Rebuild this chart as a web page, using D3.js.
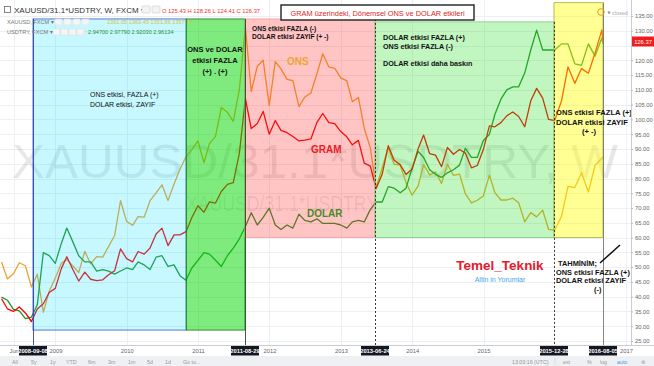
<!DOCTYPE html>
<html><head><meta charset="utf-8">
<script src="https://cdn.jsdelivr.net/npm/d3@7"></script>
<style>
html,body{margin:0;padding:0;background:#fff;}
svg{display:block;font-family:"Liberation Sans",Arial,sans-serif;}
</style></head><body>
<svg id="c" width="654" height="366"></svg>
<script>
// ---------- DATA (monthly, Mar 2008 .. Aug 2016) ----------
const startMonth = "2008-03";
const endMonth = "2016-08";
const lastBarDate = "2016-08-05";

// XAUUSD/31.1*USDTRY  (gram gold, TRY) - main series, right axis
const gramValues = [
  39.3, 35.9, 35.0, 36.5, 34.5, 31.6, 35.8, 37.6, 41.4, 42.8,
  49.5, 53.5, 49.2, 45.3, 48.3, 45.9, 45.4, 45.7, 47.4, 48.8, 56.2, 52.9,
  51.8, 55.3, 54.4, 56.5, 61.2, 63.2, 57.3, 60.9, 60.9, 62.0, 66.8, 70.8,
  68.6, 72.1, 71.7, 75.6, 78.0, 78.6, 88.5, 107.0, 96.9, 98.6, 102.7, 95.0,
  99.6, 96.3, 95.5, 94.2, 92.7, 93.0, 93.4, 99.0, 102.0, 98.9, 98.6, 95.9,
  94.1, 91.4, 92.9, 85.2, 84.2, 76.6, 81.5, 91.1, 86.2, 84.7, 81.4, 83.1,
  90.1, 94.7, 88.4, 87.9, 84.0, 90.5, 88.2, 89.8, 88.6, 83.6, 84.4, 89.8,
  97.8, 97.5, 98.9, 101.2, 102.5, 101.0, 97.5, 106.3, 110.5, 107.2, 100.0, 99.6,
  106.3, 117.8, 112.2, 117.2, 115.6, 122.4, 130.3, 126.37
];
// XAUUSD (ONS) - overlay
const onsValues = [
  933, 865, 886, 930, 918, 833, 884, 730, 815, 869,
  928, 943, 917, 891, 976, 926, 955, 953, 996, 1040, 1180, 1097,
  1081, 1116, 1114, 1180, 1212, 1244, 1181, 1247, 1307, 1357, 1386, 1421,
  1333, 1410, 1439, 1556, 1536, 1500, 1628, 1880, 1620, 1722, 1746, 1564,
  1740, 1711, 1669, 1664, 1559, 1598, 1614, 1692, 1772, 1719, 1713, 1675,
  1663, 1579, 1596, 1472, 1393, 1234, 1313, 1396, 1327, 1323, 1253, 1202,
  1240, 1326, 1284, 1296, 1250, 1327, 1282, 1287, 1208, 1171, 1182, 1199,
  1283, 1213, 1183, 1183, 1190, 1172, 1095, 1132, 1115, 1142, 1065, 1061,
  1117, 1238, 1233, 1293, 1215, 1322, 1351, 1357
];
// USDTRY (DOLAR) - overlay
const dolarValues = [
  1.31, 1.29, 1.23, 1.22, 1.17, 1.18, 1.26, 1.60, 1.58, 1.53,
  1.66, 1.76, 1.67, 1.58, 1.54, 1.54, 1.48, 1.49, 1.48, 1.46, 1.48, 1.50,
  1.49, 1.54, 1.52, 1.49, 1.57, 1.58, 1.51, 1.52, 1.45, 1.42, 1.50, 1.55,
  1.60, 1.59, 1.55, 1.51, 1.58, 1.63, 1.69, 1.77, 1.86, 1.78, 1.83, 1.89,
  1.78, 1.75, 1.78, 1.76, 1.85, 1.81, 1.80, 1.82, 1.79, 1.79, 1.79, 1.78,
  1.76, 1.80, 1.81, 1.80, 1.88, 1.93, 1.93, 2.03, 2.02, 1.99, 2.02, 2.15,
  2.26, 2.22, 2.14, 2.11, 2.09, 2.12, 2.14, 2.17, 2.28, 2.22, 2.22, 2.33,
  2.37, 2.50, 2.60, 2.66, 2.68, 2.68, 2.77, 2.92, 3.05, 2.92, 2.92, 2.92,
  2.96, 2.96, 2.83, 2.82, 2.96, 2.88, 3.00, 2.96
];

const yTickValues = [25,30,35,40,45,50,55,60,65,70,75,80,85,90,95,100,105,110,115,120,125,130,135];
const yHiddenLabel = 125; // covered by the last-price label
const xTickDates = ["2008-06-01","2009-01-01","2010-01-01","2011-01-01","2012-01-01","2013-01-01","2014-01-01","2015-01-01","2017-01-01"];
const xTickLabels = ["Jun","2009","2010","2011","2012","2013","2014","2015","2017"];
const markerDates = ["2008-09-08","2011-08-29","2013-06-24","2015-12-28","2016-08-05"];

// Highlighted periods (dates, gram-axis value bounds)
const periodStart = ["2008-09-08","2010-11-01","2011-08-29","2013-06-24","2015-12-28"];
const periodEnd   = ["2010-11-01","2011-08-29","2013-06-24","2015-12-28","2016-08-05"];
const periodTop   = [134, 134, 134, 133, 139.5];
const periodBottom= [28.7, 28.7, 60, 60, 60];

const lastClose = 126.37;
const legendMain = "O 125.43  H 128.26  L 124.41  C 126.37";
const legendOns = "1361.05  1363.45  1351.86  1357.17";
const legendDolar = "2.94700  2.97790  2.92030  2.96134";

// ---------- CHART ----------
const svg = d3.select("#c");
const parse = d3.timeParse("%Y-%m-%d");
const plotR = 631, plotB = 345;

const x = d3.scaleTime()
  .domain([...markerDates, "2017-01-01"].map(parse))
  .range([33, 245, 375, 554, 603, 626]);
const y = d3.scaleLinear().domain([25,135]).range([341,16]);
const yOns = d3.scaleLinear().domain([1050,1900]).range([233,22]);
const yDol = d3.scaleLinear().domain([1.78,3.07]).range([225,27]);

const months = d3.timeMonth.range(d3.timeParse("%Y-%m")(startMonth), d3.timeMonth.offset(d3.timeParse("%Y-%m")(endMonth),1));
const dates = months.map((m,i) => i === months.length-1 ? parse(lastBarDate) : d3.timeDay.offset(d3.timeMonth.offset(m,1),-1));

svg.append("rect").attr("width",654).attr("height",366).attr("fill","#fff");
svg.append("defs").append("clipPath").attr("id","plot")
  .append("rect").attr("x",0).attr("y",0).attr("width",plotR).attr("height",plotB);

const plot = svg.append("g").attr("clip-path","url(#plot)");

// grid
plot.append("g").selectAll("line").data(yTickValues).join("line")
  .attr("x1",0).attr("x2",plotR).attr("y1",d=>Math.round(y(d))+0.5).attr("y2",d=>Math.round(y(d))+0.5)
  .attr("stroke","#eceff3");
plot.append("g").selectAll("line").data(xTickDates).join("line")
  .attr("x1",d=>Math.round(x(parse(d)))+0.5).attr("x2",d=>Math.round(x(parse(d)))+0.5)
  .attr("y1",0).attr("y2",plotB).attr("stroke","#eceff3");

// watermarks
plot.append("text").attr("x",12).attr("y",178).attr("font-size",49)
  .attr("textLength",606).attr("lengthAdjust","spacingAndGlyphs")
  .attr("fill","#000").attr("fill-opacity",0.09).text("XAUUSD/31.1*USDTRY, W");
plot.append("text").attr("x",186).attr("y",211).attr("font-size",22)
  .attr("textLength",192).attr("lengthAdjust","spacingAndGlyphs")
  .attr("fill","#000").attr("fill-opacity",0.09).text("XAUUSD/31.1*USDTRY");

// lines
const lineOf = (vals, sc) => d3.line().x((d,i)=>x(dates[i])).y(d=>sc(d))(vals);
plot.append("path").attr("d",lineOf(onsValues,yOns)).attr("fill","none")
  .attr("stroke","#f0a12a").attr("stroke-width",1.3).attr("stroke-linejoin","round");
plot.append("path").attr("d",lineOf(dolarValues,yDol)).attr("fill","none")
  .attr("stroke","#259325").attr("stroke-width",1.3).attr("stroke-linejoin","round");
plot.append("path").attr("d",lineOf(gramValues,y)).attr("fill","none")
  .attr("stroke","#ff0000").attr("stroke-width",1.3).attr("stroke-linejoin","round");

// period rectangles (semi-transparent, over the lines)
const pFill = ["#00e1ff","#00d800","#ff2a2a","#22dd22","#ffff00"];
const pOp = [0.22, 0.5, 0.27, 0.28, 0.42];
const pStroke = ["#3355cc","#117711","#ff9999","#77cc77","#aaaa33"];
plot.append("g").selectAll("rect").data(periodStart).join("rect")
  .attr("x",(d,i)=>x(parse(d)))
  .attr("width",(d,i)=>x(parse(periodEnd[i]))-x(parse(d)))
  .attr("y",(d,i)=>y(periodTop[i]))
  .attr("height",(d,i)=>y(periodBottom[i])-y(periodTop[i]))
  .attr("fill",(d,i)=>pFill[i]).attr("fill-opacity",(d,i)=>pOp[i])
  .attr("stroke",(d,i)=>pStroke[i]).attr("stroke-width",0.8);

// vertical marker lines
const mStyle = [{c:"#3344aa",d:null},{c:"#225522",d:null},{c:"#222",d:"2,2"},{c:"#222",d:"2,2"},{c:"#777",d:null}];
plot.append("g").selectAll("line").data(markerDates).join("line")
  .attr("x1",d=>Math.round(x(parse(d)))+0.5).attr("x2",d=>Math.round(x(parse(d)))+0.5)
  .attr("y1",(d,i)=> y(periodTop[Math.min(i,4)]))
  .attr("y2",plotB)
  .attr("stroke",(d,i)=>mStyle[i].c).attr("stroke-dasharray",(d,i)=>mStyle[i].d).attr("stroke-width",0.9);

// annotations
function block(x0, y0, lines, opts) {
  const t = svg.append("text").attr("font-size",opts.size).attr("font-weight",opts.bold?"bold":"normal")
    .attr("fill",opts.color||"#111").attr("text-anchor",opts.anchor||"start");
  lines.forEach((s,i)=> t.append("tspan").attr("x", Array.isArray(x0)?x0[i]:x0).attr("y", y0 + i*opts.lh).text(s));
}
block(90, 97, ["ONS etkisi, FAZLA (+)","DOLAR etkisi, ZAYIF"], {size:7, lh:9.5});
block(215, 52, ["ONS ve DOLAR","etkisi FAZLA","(+) . (+)"], {size:7.5, lh:11, bold:true, anchor:"middle"});
block(252, 31, ["ONS etkisi FAZLA (-)","DOLAR etkisi ZAYIF (+ -)"], {size:6.6, lh:7.5, bold:true});
block(383, 40, ["DOLAR etkisi FAZLA (+)","ONS etkisi FAZLA (-)"], {size:7.2, lh:8.5, bold:true});
block(383, 66, ["DOLAR etkisi daha baskın"], {size:7.2, lh:8.5, bold:true});
block([556,556,582], 115, ["ONS etkisi FAZLA (+)","DOLAR etkisi ZAYIF","(+ -)"], {size:7.6, lh:9.5, bold:true});
block([558,556,556,594], 266, ["TAHMİNİM;","ONS etkisi FAZLA (+)","DOLAR etkisi ZAYIF","(-)"], {size:7.4, lh:8.7, bold:true});
svg.append("text").attr("x",287).attr("y",65).attr("font-size",10).attr("font-weight","bold").attr("fill","#eda535").text("ONS");
svg.append("text").attr("x",311).attr("y",153).attr("font-size",10).attr("font-weight","bold").attr("fill","#ee1b24").text("GRAM");
svg.append("text").attr("x",307).attr("y",217).attr("font-size",10).attr("font-weight","bold").attr("fill","#4a8a26").text("DOLAR");
svg.append("text").attr("x",500).attr("y",270).attr("font-size",13.5).attr("font-weight","bold").attr("fill","#e8192c").attr("text-anchor","middle").text("Temel_Teknik");
svg.append("text").attr("x",500).attr("y",282).attr("font-size",7).attr("fill","#3fa9e6").attr("text-anchor","middle").text("Altin in Yorumlar");
svg.append("line").attr("x1",620).attr("y1",245).attr("x2",600).attr("y2",263).attr("stroke","#111").attr("stroke-width",1.5);

// title box
svg.append("rect").attr("x",281).attr("y",5).attr("width",193).attr("height",15).attr("fill","#fff").attr("stroke","#222").attr("stroke-width",1.4);
svg.append("text").attr("x",377.5).attr("y",15.5).attr("font-size",7.4).attr("fill","#e01e1e").attr("text-anchor","middle").text("GRAM üzerindeki, Dönemsel  ONS ve DOLAR etkileri");

// legend
svg.append("rect").attr("x",4.5).attr("y",6.5).attr("width",6).attr("height",6).attr("fill","none").attr("stroke","#666").attr("stroke-width",0.8);
svg.append("text").attr("x",14).attr("y",13).attr("font-size",8).attr("fill","#333").text("XAUUSD/31.1*USDTRY, W, FXCM ▾");
[[142,6],[152,6]].forEach(p=>svg.append("rect").attr("x",p[0]).attr("y",p[1]).attr("width",8).attr("height",7).attr("rx",1).attr("fill","#f3f3f3").attr("stroke","#ccc").attr("stroke-width",0.6));
svg.append("text").attr("x",162).attr("y",13).attr("font-size",5.8).attr("fill","#e33").text(legendMain);
svg.append("text").attr("x",7).attr("y",24).attr("font-size",5.6).attr("fill","#777").text("XAUUSD, FXCM ▾");
[55,64,73,82].forEach(p=>svg.append("rect").attr("x",p).attr("y",19).attr("width",7).attr("height",6).attr("fill","#f5f5f5").attr("stroke","#ddd").attr("stroke-width",0.5));
svg.append("text").attr("x",107).attr("y",24).attr("font-size",5.6).attr("fill","#d6c23a").text(legendOns);
svg.append("text").attr("x",7).attr("y",34).attr("font-size",5.6).attr("fill","#777").text("USDTRY, FXCM ▾");
[53,61,69,77].forEach(p=>svg.append("rect").attr("x",p).attr("y",29).attr("width",7).attr("height",6).attr("fill","#f5f5f5").attr("stroke","#ddd").attr("stroke-width",0.5));
svg.append("text").attr("x",88).attr("y",34).attr("font-size",5.6).attr("fill","#2f8f2f").text(legendDolar);

// closed indicator
svg.append("circle").attr("cx",601).attr("cy",12).attr("r",3.3).attr("fill","none").attr("stroke","#f39a1e").attr("stroke-width",1);
svg.append("circle").attr("cx",609).attr("cy",12.5).attr("r",1.3).attr("fill","#999");
svg.append("text").attr("x",612).attr("y",14.5).attr("font-size",5.5).attr("fill","#aaa").text("closed");

// right axis
svg.append("line").attr("x1",plotR+0.5).attr("x2",plotR+0.5).attr("y1",0).attr("y2",plotB).attr("stroke","#c9ccd2");
const yAxis = d3.axisRight(y).tickValues(yTickValues.filter(v=>v!==yHiddenLabel)).tickFormat(d3.format(".2f")).tickSize(2).tickPadding(2);
const ya = svg.append("g").attr("transform",`translate(${plotR},0)`).call(yAxis);
ya.select(".domain").remove();
ya.selectAll("line").attr("stroke","#bbb");
ya.selectAll("text").attr("font-size",5.8).attr("fill","#666").attr("font-family","Liberation Sans, Arial");
// last price label
svg.append("rect").attr("x",632).attr("y",y(lastClose)-5).attr("width",22).attr("height",10).attr("fill","#ee1c1c");
svg.append("text").attr("x",643).attr("y",y(lastClose)+2.2).attr("font-size",5.8).attr("fill","#fff").attr("text-anchor","middle").text(d3.format(".2f")(lastClose));

// bottom axis
svg.append("line").attr("x1",0).attr("x2",654).attr("y1",plotB+0.5).attr("y2",plotB+0.5).attr("stroke","#c9ccd2");
const xAxis = d3.axisBottom(x).tickValues(xTickDates.map(parse)).tickFormat((d,i)=>xTickLabels[i]).tickSize(0).tickPadding(4);
const xa = svg.append("g").attr("transform",`translate(0,${plotB})`).call(xAxis);
xa.select(".domain").remove();
xa.selectAll("text").attr("font-size",5.8).attr("fill","#666").attr("font-family","Liberation Sans, Arial");

// marker labels
const mg = svg.append("g").selectAll("g").data(markerDates).join("g")
  .attr("transform",d=>`translate(${x(parse(d))},${plotB+1})`);
mg.append("rect").attr("x",-14).attr("y",0).attr("width",28).attr("height",9.5).attr("fill","#131722");
mg.append("text").attr("y",7).attr("text-anchor","middle").attr("font-size",5.8).attr("font-weight","bold").attr("fill","#fff").text(d=>d);

// bottom toolbar
svg.append("rect").attr("x",0).attr("y",356).attr("width",654).attr("height",10).attr("fill","#eef0f3");
const tb = ["All","5y","1y","YTD","6m","3m","1m","5d","1d","Go to..."];
const tbx = [12,31,50,66,88,108,128,147,165,183];
tb.forEach((s,i)=>svg.append("text").attr("x",tbx[i]).attr("y",363.5).attr("font-size",5.3).attr("fill","#999").text(s));
[["13:03:16 (UTC)",512,"#999"],["ext",563,"#999"],["%",587,"#999"],["log",600,"#999"],["auto",617,"#3f9fe0"],["⚙",641,"#999"]]
  .forEach(a=>svg.append("text").attr("x",a[1]).attr("y",363.5).attr("font-size",5.3).attr("fill",a[2]).text(a[0]));
svg.append("line").attr("x1",555).attr("x2",555).attr("y1",357).attr("y2",365).attr("stroke","#ddd");
</script>
</body></html>
